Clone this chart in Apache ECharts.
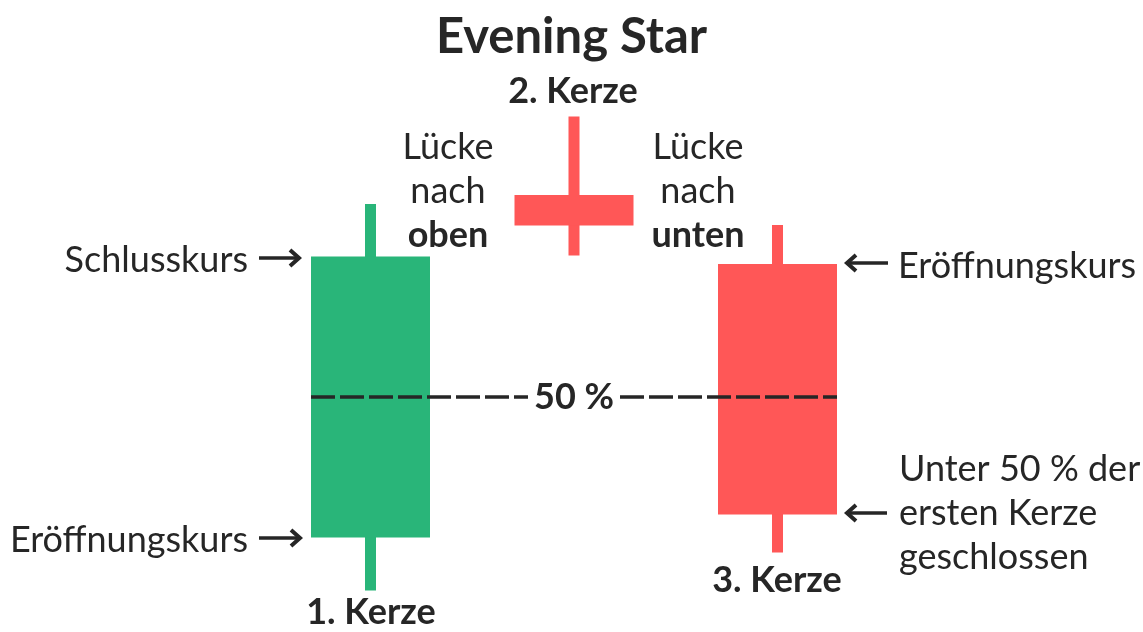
<!DOCTYPE html>
<html lang="de">
<head>
    <meta charset="UTF-8">
    <title>Evening Star</title>
    <script src="https://cdn.jsdelivr.net/npm/echarts@6/dist/echarts.min.js"></script>
</head>
<body style="margin:0;background:#fff;">
<div id="chart" style="width: 1143px;height: 632px;"></div>
<script>
    // Kerzen: Eröffnung, Schluss, Tief, Hoch
    var categories = ['1. Kerze', '2. Kerze', '3. Kerze'];
    var openPrices = [12.5, 81, 67.2];
    var closePrices = [68.7, 74.9, 17.1];
    var lowPrices = [1.9, 68.9, 9.5];
    var highPrices = [79.2, 96.7, 75];
    var yTicks = [0, 100];

    var GREEN = '#29b579';
    var RED = '#ff5757';
    var TEXT = '#262626';
    var BODY_W = 119;
    var WICK_W = 11;
    var FS = 36;   // normale Schriftgröße

    // 50 % des Körpers der ersten Kerze
    var halfLevel = (openPrices[0] + closePrices[0]) / 2;

    var candleData = [];
    for (var i = 0; i < categories.length; i++) {
        candleData.push([i, openPrices[i], closePrices[i], lowPrices[i], highPrices[i]]);
    }

    function arrow(x1, x2, y) {
        var d = x2 > x1 ? 1 : -1;
        return {
            type: 'group',
            children: [{
                type: 'line',
                shape: {x1: x1, y1: y, x2: x2 - d * 2, y2: y},
                style: {stroke: TEXT, lineWidth: 3.5}
            }, {
                type: 'polyline',
                shape: {points: [[x2 - d * 9, y - 8], [x2, y], [x2 - d * 9, y + 8]]},
                style: {stroke: TEXT, lineWidth: 4, fill: null, lineJoin: 'miter'}
            }]
        };
    }

    function label(text, x, y, align, size, weight) {
        return {
            type: 'text',
            style: {
                text: text, x: x, y: y,
                fill: TEXT,
                fontFamily: 'Lato',
                fontSize: size,
                fontWeight: weight || 'normal',
                align: align,
                verticalAlign: 'middle'
            }
        };
    }

    function block(text, x, y, align) {
        return {
            type: 'text',
            style: {
                text: text, x: x, y: y,
                fill: TEXT,
                fontFamily: 'Lato',
                fontSize: FS,
                lineHeight: 44,
                align: align,
                verticalAlign: 'top',
                rich: {
                    b: {fontFamily: 'Lato', fontSize: FS, fontWeight: 'bold', fill: TEXT, lineHeight: 44}
                }
            }
        };
    }

    var myChart = echarts.init(document.getElementById('chart'));
    var option = {
        backgroundColor: '#fff',
        animation: false,
        title: {
            text: 'Evening Star',
            left: 'center',
            top: 8,
            textStyle: {fontFamily: 'Lato', fontSize: 49, fontWeight: 'bold', color: TEXT}
        },
        grid: {
            top: 100,
            height: 500,
            left: 268.75,
            width: 610.5
        },
        xAxis: {
            type: 'category',
            data: categories,
            show: false
        },
        yAxis: {
            type: 'value',
            min: yTicks[0],
            max: yTicks[1],
            show: false
        },
        series: [{
            type: 'custom',
            encode: {x: 0, y: [1, 2, 3, 4]},
            data: candleData,
            renderItem: function (params, api) {
                var idx = api.value(0);
                var pO = api.coord([idx, api.value(1)]);
                var pC = api.coord([idx, api.value(2)]);
                var pL = api.coord([idx, api.value(3)]);
                var pH = api.coord([idx, api.value(4)]);
                var color = api.value(2) >= api.value(1) ? GREEN : RED;
                var top = Math.min(pO[1], pC[1]);
                return {
                    type: 'group',
                    children: [{
                        type: 'rect',
                        shape: {x: pO[0] - WICK_W / 2, y: pH[1], width: WICK_W, height: pL[1] - pH[1]},
                        style: {fill: color}
                    }, {
                        type: 'rect',
                        shape: {x: pO[0] - BODY_W / 2, y: top, width: BODY_W, height: Math.abs(pO[1] - pC[1])},
                        style: {fill: color}
                    }]
                };
            }
        }, {
            type: 'custom',
            encode: {x: 0, y: 1},
            data: [[1, halfLevel]],
            z: 5,
            renderItem: function (params, api) {
                var lv = api.value(1);
                var a = api.coord([0, lv]);
                var b = api.coord([2, lv]);
                var m = api.coord([1, lv]);
                var dash = {stroke: TEXT, lineWidth: 3.5, lineDash: [24, 5]};
                return {
                    type: 'group',
                    children: [{
                        type: 'line',
                        shape: {x1: a[0] - BODY_W / 2, y1: a[1], x2: m[0] - 46, y2: m[1]},
                        style: dash
                    }, {
                        type: 'line',
                        shape: {x1: m[0] + 46, y1: m[1], x2: b[0] + BODY_W / 2, y2: b[1]},
                        style: dash
                    }, {
                        type: 'text',
                        style: {
                            text: '50 %', x: m[0], y: m[1],
                            align: 'center', verticalAlign: 'middle',
                            fontFamily: 'Lato', fontSize: FS, fontWeight: 'bold',
                            fill: TEXT
                        }
                    }]
                };
            }
        }],
        graphic: [
            label('2. Kerze', 573, 91, 'center', FS, 'bold'),
            label('1. Kerze', 371, 612, 'center', FS, 'bold'),
            label('3. Kerze', 777, 580, 'center', FS, 'bold'),
            label('Schlusskurs', 248, 260, 'right', FS),
            arrow(259, 299, 258),
            label('Eröffnungskurs', 248, 540, 'right', FS),
            arrow(259, 300, 538),
            label('Eröffnungskurs', 898, 266, 'left', FS),
            arrow(888, 847, 263),
            block('Unter 50 % der\nersten Kerze\ngeschlossen', 899, 447, 'left'),
            arrow(887, 847, 513),
            block('Lücke\nnach\n{b|oben}', 448, 125, 'center'),
            block('Lücke\nnach\n{b|unten}', 698, 125, 'center')
        ]
    };
    myChart.setOption(option);
</script>
</body>
</html>
